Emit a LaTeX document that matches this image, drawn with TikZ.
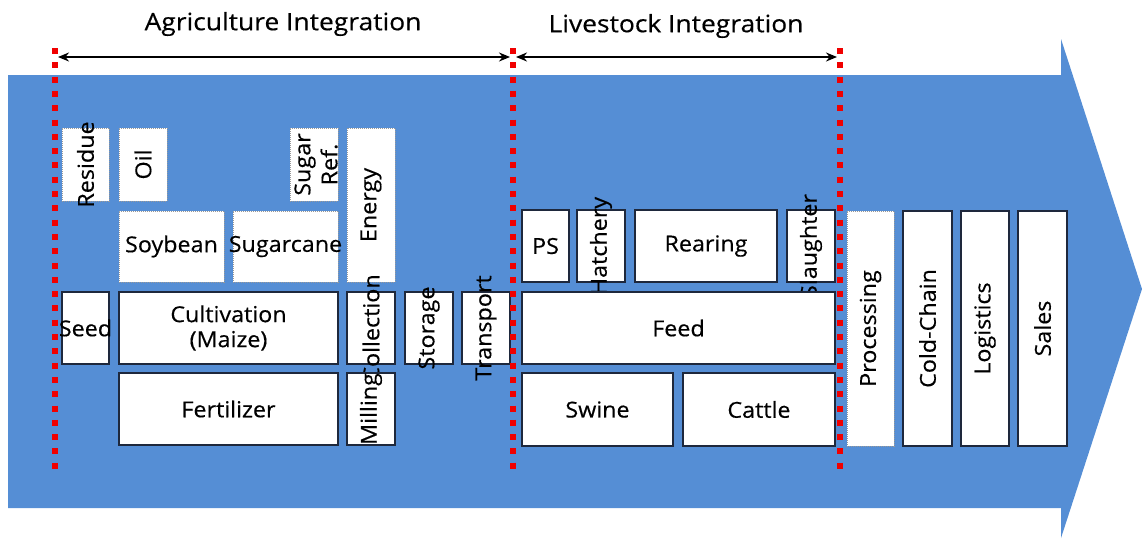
\documentclass[tikz,border=0pt]{standalone}
\usepackage{fontspec}
\setmainfont{Open Sans}[FakeStretch=1.06, FakeBold=0.4]
\usetikzlibrary{arrows.meta}
\definecolor{flow}{RGB}{85,142,213}
\definecolor{sep}{RGB}{240,0,0}
\definecolor{edge}{RGB}{30,40,60}

\begin{document}
\begin{tikzpicture}[x=1pt,y=-1pt,
  box/.style={draw=edge, line width=1.1pt, fill=white, inner sep=0pt},
  dbox/.style={draw=gray!80, densely dotted, line width=1pt, fill=white, inner sep=0pt},
  lbl/.style={font=\fontsize{22}{25}\selectfont, inner sep=0pt, align=center},
  vert/.style={lbl, rotate=90},
  sepline/.style={draw=sep, line width=6pt, dash pattern=on 6pt off 8.3pt},
  span/.style={draw=black, line width=1.8pt, {Stealth[length=11pt,width=9pt]}-{Stealth[length=11pt,width=9pt]}},
  title/.style={font=\fontsize{24}{26}\selectfont\addfontfeature{FakeStretch=1.1}, inner sep=0pt}
]
\useasboundingbox (0,0) rectangle (1142,538);

% big flow arrow
\fill[flow] (8,75) -- (1061,75) -- (1061,39) -- (1142,289) -- (1061,538)
  -- (1061,508) -- (8,508) -- cycle;

% agriculture blocks
\node[dbox, minimum width=47pt, minimum height=73pt] (residue) at (85.5,164.5) {};
\node[vert] (residue-t) at (residue) {Residue};
\node[dbox, minimum width=48pt, minimum height=73pt] (oil) at (143,164.5) {};
\node[vert] (oil-t) at (oil) {Oil};
\node[dbox, minimum width=48pt, minimum height=73pt] (sugarref) at (314,164.5) {};
\node[vert, font=\fontsize{22}{27}\selectfont] (sugarref-t) at (316,164.5) {Sugar\\Ref.};
\node[dbox, minimum width=48pt, minimum height=154pt] (energy) at (371,205) {};
\node[vert] (energy-t) at (energy) {Energy};
\node[dbox, minimum width=105pt, minimum height=71pt] (soybean) at (171.5,246.5) {};
\node[lbl] (soybean-t) at (soybean) {Soybean};
\node[dbox, minimum width=105pt, minimum height=71pt] (sugarcane) at (285.5,246.5) {};
\node[lbl] (sugarcane-t) at (sugarcane) {Sugarcane};
\node[box, minimum width=47pt, minimum height=72pt] (seed) at (85.5,328) {};
\node[lbl] (seed-t) at (seed) {Seed};
\node[box, minimum width=219pt, minimum height=72pt] (cultivation) at (228.5,328) {};
\node[lbl] (cultivation-t) at (cultivation) {Cultivation\\(Maize)};
\node[box, minimum width=48pt, minimum height=72pt] (collection) at (371,328) {};
\node[vert] (collection-t) at (collection) {Collection};
\node[box, minimum width=48pt, minimum height=72pt] (storage) at (429,328) {};
\node[vert] (storage-t) at (storage) {Storage};
\node[box, minimum width=48pt, minimum height=72pt] (transport) at (486,328) {};
\node[vert] (transport-t) at (transport) {Transport};
\node[box, minimum width=219pt, minimum height=72pt] (fertilizer) at (228.5,409) {};
\node[lbl] (fertilizer-t) at (fertilizer) {Fertilizer};
\node[box, minimum width=48pt, minimum height=72pt] (milling) at (371,409) {};
\node[vert] (milling-t) at (milling) {Milling};

% livestock blocks
\node[box, minimum width=47pt, minimum height=72pt] (ps) at (545.5,246) {};
\node[lbl] (ps-t) at (ps) {PS};
\node[box, minimum width=48pt, minimum height=72pt] (hatchery) at (601,246) {};
\node[vert] (hatchery-t) at (hatchery) {Hatchery};
\node[box, minimum width=142pt, minimum height=72pt] (rearing) at (706,246) {};
\node[lbl] (rearing-t) at (rearing) {Rearing};
\node[box, minimum width=48pt, minimum height=72pt] (slaughter) at (811,246) {};
\node[vert] (slaughter-t) at (slaughter) {Slaughter};
\node[box, minimum width=313pt, minimum height=72pt] (feed) at (678.5,328) {};
\node[lbl] (feed-t) at (feed) {Feed};
\node[box, minimum width=151pt, minimum height=73pt] (swine) at (597.5,409.5) {};
\node[lbl] (swine-t) at (swine) {Swine};
\node[box, minimum width=152pt, minimum height=73pt] (cattle) at (759,409.5) {};
\node[lbl] (cattle-t) at (cattle) {Cattle};

% downstream blocks
\node[dbox, minimum width=47pt, minimum height=235pt] (processing) at (870.5,328.5) {};
\node[vert] (processing-t) at (processing) {Processing};
\node[box, minimum width=49pt, minimum height=235pt] (coldchain) at (927.5,328.5) {};
\node[vert] (coldchain-t) at (coldchain) {Cold-Chain};
\node[box, minimum width=48pt, minimum height=235pt] (logistics) at (985,328.5) {};
\node[vert] (logistics-t) at (logistics) {Logistics};
\node[box, minimum width=49pt, minimum height=235pt] (sales) at (1042.5,328.5) {};
\node[vert] (sales-t) at (sales) {Sales};

% stage boundaries
\coordinate (a1) at (55,48);  \coordinate (a2) at (55,476);
\coordinate (b1) at (513,48); \coordinate (b2) at (513,476);
\coordinate (c1) at (840,48); \coordinate (c2) at (840,476);
\draw[sepline] (a1) -- (a2);
\draw[sepline] (b1) -- (b2);
\draw[sepline] (c1) -- (c2);

% stage spans
\coordinate (s1) at (58,57);  \coordinate (s2) at (510,57);
\coordinate (s3) at (516,57); \coordinate (s4) at (837,57);
\draw[span] (s1) -- (s2);
\draw[span] (s3) -- (s4);

\node[title] (agri) at (283,24) {Agriculture Integration};
\node[title] (live) at (676,26) {Livestock Integration};
\end{tikzpicture}
\end{document}
